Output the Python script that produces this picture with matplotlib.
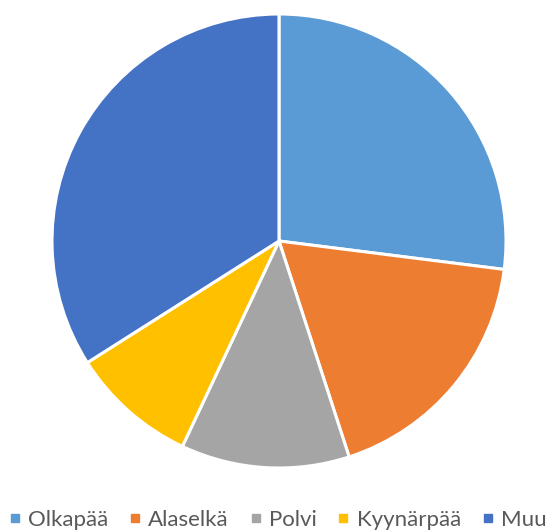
import matplotlib.pyplot as plt
from matplotlib.lines import Line2D

labels = ['Olkapää', 'Alaselkä', 'Polvi', 'Kyynärpää', 'Muu']
values = [27, 18, 12, 9, 34]
colors = ['#5B9BD5', '#ED7D31', '#A5A5A5', '#FFC000', '#4472C4']

plt.rcParams['font.family'] = ['Lato', 'DejaVu Sans']

W, H = 559, 532
fig = plt.figure(figsize=(W / 100, H / 100), dpi=100)

# pie centre ~ (279, 241) px, radius ~227 px
cx, cy, r = 279, 241, 227
ax = fig.add_axes([(cx - r) / W, (H - cy - r) / H, 2 * r / W, 2 * r / H])
ax.pie(values, colors=colors, startangle=90, counterclock=False, radius=1,
       wedgeprops=dict(edgecolor='white', linewidth=2.2))
ax.set_xlim(-1, 1)
ax.set_ylim(-1, 1)
ax.set_aspect('equal')
ax.axis('off')

handles = [Line2D([], [], marker='s', linestyle='none', markersize=6,
                  markerfacecolor=c, markeredgecolor=c) for c in colors]
fig.legend(handles, labels, loc='center left', bbox_to_anchor=(8 / W, 12 / H),
           ncol=5, frameon=False, fontsize=16, labelcolor='#595959',
           handlelength=0.6, handletextpad=0.3, columnspacing=0.9,
           borderaxespad=0, borderpad=0.0)

fig.savefig('out.png', dpi=100)
